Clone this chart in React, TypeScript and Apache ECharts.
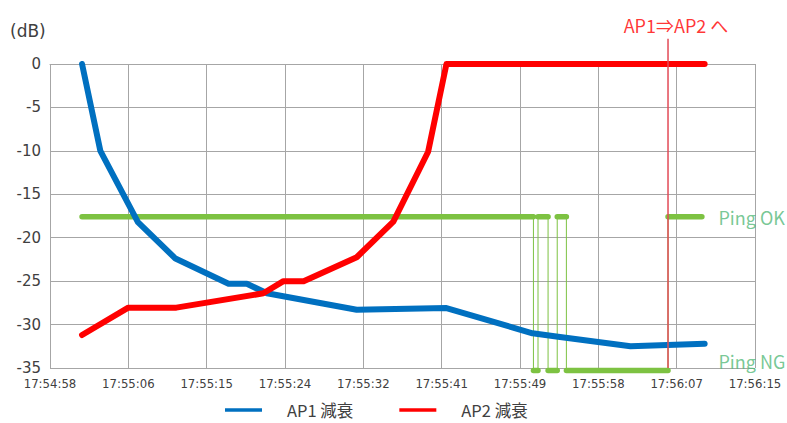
import React, { useEffect, useRef } from "react";
import * as echarts from "echarts";

// x values are seconds elapsed since 17:54:58
const xTickLabels = [
  "17:54:58", "17:55:06", "17:55:15", "17:55:24", "17:55:32",
  "17:55:41", "17:55:49", "17:55:58", "17:56:07", "17:56:15",
];
const X_SPAN = 77;
const X_STEP = X_SPAN / (xTickLabels.length - 1);

const ap1Time = [3.5, 5.5, 9.6, 13.7, 19.5, 21.5, 23.7, 33.5, 43.3, 52.7, 55.5, 63.4, 71.5];
const ap1Db = [0, -10, -18.2, -22.4, -25.3, -25.3, -26.4, -28.3, -28.1, -31.0, -31.4, -32.5, -32.2];

const ap2Time = [3.5, 8.55, 13.8, 23.3, 25.5, 27.7, 33.5, 37.5, 41.3, 43.3, 71.5];
const ap2Db = [-31.2, -28.05, -28.05, -26.4, -25.0, -25.0, -22.25, -18.15, -10.1, 0, 0];

const pingTime = [3.5, 52.8, 53.3, 54.4, 55.4, 56.4, 67.5, 71.2];
const pingState = ["OK", "NG", "OK", "NG", "OK", "NG", "OK"];
const pingLevel: Record<string, number> = { OK: -17.6, NG: -35.3 };

const switchTime = 67.5;
const switchTop = 2.9;
const switchText = "AP1⇒AP2 へ";

const BLUE = "#0070C0";
const RED = "#FF0000";
const GREEN = "#7DC242";
const GREEN_TEXT = "#55B97A";
const GRID = "#A6A6A6";
const TEXT = "#404040";
const NARROW = "'Liberation Sans Narrow', 'Arial Narrow', 'DejaVu Sans Condensed', Roboto, sans-serif";

export default function App() {
  const ref = useRef<HTMLDivElement>(null);

  useEffect(() => {
    if (!ref.current) return;
    const chart = echarts.init(ref.current, undefined, { renderer: "svg" });

    const ap1 = ap1Time.map((t, i) => [t, ap1Db[i]]);
    const ap2 = ap2Time.map((t, i) => [t, ap2Db[i]]);

    const pingThick: any[] = [];
    pingState.forEach((s, i) => {
      const y = pingLevel[s];
      pingThick.push([pingTime[i], y], [pingTime[i + 1], y], [pingTime[i + 1], "-"]);
    });
    const pingThin = pingTime.map((t, i) => [
      t,
      pingLevel[pingState[Math.min(i, pingState.length - 1)]],
    ]);
    const lastT = pingTime[pingTime.length - 1];

    chart.setOption({
      animation: false,
      grid: { left: 50, right: 32, top: 64, bottom: 55, containLabel: false },
      graphic: [
        {
          type: "text",
          left: 10,
          top: 22,
          style: { text: "(dB)", fontSize: 17, fontFamily: "DejaVu Sans", fill: TEXT },
        },
      ],
      legend: {
        data: ["AP1 減衰", "AP2 減衰"],
        left: 225,
        top: 401,
        padding: 0,
        icon: "rect",
        itemWidth: 37,
        itemHeight: 3.5,
        itemGap: 46,
        textStyle: {
          fontSize: 16.5,
          fontFamily: "Noto Sans CJK JP",
          color: TEXT,
          padding: [0, 0, 0, 20],
          lineHeight: 18,
        },
      },
      xAxis: {
        type: "value",
        min: 0,
        max: X_SPAN,
        interval: X_STEP,
        axisLine: { show: true, lineStyle: { color: GRID, width: 1 } },
        axisTick: { show: false },
        splitLine: { show: true, lineStyle: { color: GRID, width: 1 } },
        axisLabel: {
          margin: 9,
          fontSize: 13,
          fontFamily: NARROW,
          color: TEXT,
          showMaxLabel: true,
          showMinLabel: true,
          formatter: (v: number) => xTickLabels[Math.round(v / X_STEP)] ?? "",
        },
      },
      yAxis: {
        type: "value",
        min: -35,
        max: 0,
        interval: 5,
        axisLine: { show: false },
        axisTick: { show: false },
        splitLine: { show: true, lineStyle: { color: GRID, width: 1 } },
        axisLabel: { margin: 9, fontSize: 15, fontFamily: "DejaVu Sans", color: TEXT },
      },
      series: [
        {
          name: "PingStep",
          type: "line",
          data: pingThin,
          step: "end",
          symbol: "none",
          clip: false,
          lineStyle: { color: GREEN, width: 1 },
          z: 1,
        },
        {
          name: "Ping",
          type: "line",
          data: pingThick,
          symbol: "none",
          connectNulls: false,
          clip: false,
          lineStyle: { color: GREEN, width: 5.5, cap: "round", join: "round" },
          z: 2,
        },
        {
          name: "AP1 減衰",
          type: "line",
          data: ap1,
          symbol: "none",
          itemStyle: { color: BLUE },
          lineStyle: { color: BLUE, width: 6, cap: "round", join: "round" },
          z: 3,
        },
        {
          name: "AP2 減衰",
          type: "line",
          data: ap2,
          symbol: "none",
          itemStyle: { color: RED },
          lineStyle: { color: RED, width: 6, cap: "round", join: "round" },
          z: 4,
        },
        {
          name: "Switch",
          type: "line",
          data: [
            [switchTime, switchTop],
            [switchTime, -35],
          ],
          symbol: "none",
          clip: false,
          lineStyle: { color: "#E24A57", width: 1.5 },
          z: 5,
        },
        {
          name: "Notes",
          type: "scatter",
          clip: false,
          symbolSize: 1,
          itemStyle: { color: "rgba(0,0,0,0)" },
          label: {
            show: true,
            position: "right",
            distance: 16,
            fontSize: 18,
            fontFamily: "Noto Sans CJK JP",
            color: GREEN_TEXT,
            formatter: (p: any) => p.name,
          },
          data: [
            { name: "Ping OK", value: [lastT, pingLevel.OK] },
            { name: "Ping NG", value: [lastT, pingLevel.NG], label: { offset: [0, -10] } },
            {
              name: switchText,
              value: [switchTime, switchTop],
              label: { position: "top", distance: 4, offset: [8, 0], color: RED, fontSize: 18 },
            },
          ],
          z: 6,
        },
      ],
    });

    return () => chart.dispose();
  }, []);

  return (
    <div
      ref={ref}
      style={{ position: "absolute", left: 0, top: 0, width: 787, height: 423, background: "#fff" }}
    />
  );
}
